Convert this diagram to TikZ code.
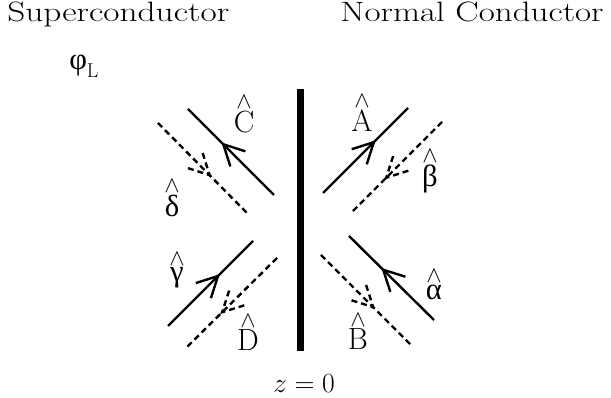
\documentclass[tikz,border=0pt]{standalone}
\usepackage{fontspec}
\newfontfamily\grk{Liberation Serif}
\usetikzlibrary{decorations.markings}
\newcommand{\hatlbl}[1]{$\stackrel{\wedge}{\mbox{#1}}$}

\begin{document}
\begin{tikzpicture}[x=0.75pt,y=-0.75pt,
  txt/.style={font=\fontsize{21}{25}\selectfont, inner sep=0pt},
  lbl/.style={font=\fontsize{23}{27}\selectfont, inner sep=0pt, anchor=base},
  wave/.style={line width=1.8pt},
  refl/.style={line width=1.8pt, dash pattern=on 4.5pt off 3pt},
  tip/.style={postaction={decorate}, decoration={markings,
    mark=at position #1 with {\draw (-15.5pt,8pt) -- (0,0) -- (-15.5pt,-8pt);}}}]
\useasboundingbox (0,0) rectangle (611,398);
\node[txt, xscale=1.26, anchor=base west] (sc) at (7,22) {Superconductor};
\node[txt, xscale=1.25, anchor=base west] (nc) at (340,22) {Normal Conductor};
\node[lbl, anchor=base west] (phi) at (69,70) {{\grk φ}\raisebox{-6pt}{\fontsize{15}{17}\selectfont L}};
\coordinate (bartop) at (300,89);
\coordinate (barbot) at (300,351);
\draw[line width=5.25pt] (bartop) -- (barbot);
\coordinate (c1) at (274,195); \coordinate (c2) at (188,109);
\coordinate (a1) at (323,193); \coordinate (a2) at (408,108);
\coordinate (g1) at (168,326); \coordinate (g2) at (253,241);
\coordinate (al1) at (434,320); \coordinate (al2) at (349,236);
\coordinate (d1) at (158,123); \coordinate (d2) at (247,213);
\coordinate (b1) at (442,122); \coordinate (b2) at (352,212);
\coordinate (dd1) at (277,258); \coordinate (dd2) at (187,347);
\coordinate (bb1) at (321,255); \coordinate (bb2) at (411,345);
\draw[wave, tip=0.59] (c1) -- (c2);
\draw[wave, tip=0.6] (a1) -- (a2);
\draw[wave, tip=0.59] (g1) -- (g2);
\draw[wave, tip=0.6] (al1) -- (al2);
\draw[refl, tip=0.58] (d1) -- (d2);
\draw[refl, tip=0.62] (b1) -- (b2);
\draw[refl, tip=0.61] (dd1) -- (dd2);
\draw[refl, tip=0.58] (bb1) -- (bb2);
\node[lbl] (lc) at (244,133) {\hatlbl{C}};
\node[lbl] (la) at (362,132) {\hatlbl{A}};
\node[lbl] (lbeta) at (430,187) {\hatlbl{\grk β}};
\node[lbl] (ldelta) at (172,217) {\hatlbl{\grk δ}};
\node[lbl] (lgamma) at (177,282) {\hatlbl{\grk γ}};
\node[lbl] (ld) at (248,351) {\hatlbl{D}};
\node[lbl] (lb) at (358,350) {\hatlbl{B}};
\node[lbl] (lalpha) at (434,300) {\hatlbl{\grk α}};
\node[txt, anchor=base] (z) at (304,393) {$z = 0$};
\end{tikzpicture}
\end{document}
